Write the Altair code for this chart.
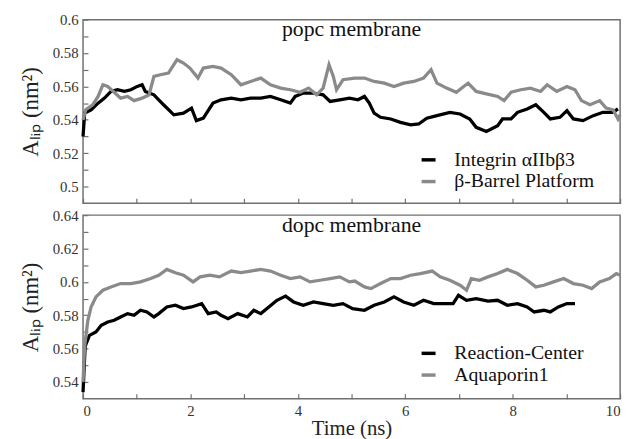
import altair as alt
import pandas as pd

# ---- data (time in ns, area per lipid in nm^2) ----
INTEGRIN = [(0.0, 0.530), (0.03, 0.544), (0.15, 0.546), (0.28, 0.550), (0.40, 0.553), (0.52, 0.557),
            (0.64, 0.558), (0.77, 0.557), (0.89, 0.558), (1.01, 0.560), (1.10, 0.561), (1.16, 0.557),
            (1.32, 0.555), (1.50, 0.549), (1.69, 0.543), (1.87, 0.544), (2.02, 0.547), (2.11, 0.5395),
            (2.24, 0.541), (2.42, 0.550), (2.57, 0.552), (2.76, 0.553), (2.94, 0.552), (3.12, 0.553),
            (3.31, 0.553), (3.49, 0.554), (3.68, 0.552), (3.86, 0.550), (3.95, 0.554), (4.10, 0.556),
            (4.29, 0.556), (4.47, 0.555), (4.60, 0.551), (4.78, 0.552), (4.96, 0.553), (5.12, 0.552),
            (5.24, 0.554), (5.33, 0.550), (5.42, 0.544), (5.54, 0.5415), (5.73, 0.5405), (5.91, 0.5385),
            (6.10, 0.537), (6.25, 0.5375), (6.40, 0.541), (6.59, 0.5425), (6.83, 0.5445), (7.02, 0.5435),
            (7.20, 0.5405), (7.32, 0.5355), (7.51, 0.533), (7.72, 0.5365), (7.81, 0.5405), (7.97, 0.5405),
            (8.09, 0.5445), (8.27, 0.5465), (8.43, 0.549), (8.58, 0.5445), (8.70, 0.5405), (8.88, 0.5415),
            (9.01, 0.5455), (9.13, 0.5405), (9.31, 0.5395), (9.50, 0.5425), (9.68, 0.5445), (9.87, 0.5445),
            (9.96, 0.5465)]

BARREL = [(0.0, 0.540), (0.05, 0.546), (0.18, 0.549), (0.28, 0.554), (0.37, 0.561), (0.46, 0.560),
          (0.58, 0.5565), (0.70, 0.553), (0.83, 0.554), (0.95, 0.5515), (1.10, 0.553), (1.23, 0.555),
          (1.32, 0.566), (1.44, 0.567), (1.59, 0.568), (1.75, 0.576), (1.87, 0.574), (1.99, 0.571),
          (2.14, 0.565), (2.24, 0.571), (2.42, 0.572), (2.57, 0.571), (2.76, 0.567), (2.94, 0.561),
          (3.12, 0.563), (3.31, 0.565), (3.49, 0.561), (3.68, 0.559), (3.86, 0.558), (4.04, 0.5565),
          (4.20, 0.559), (4.35, 0.555), (4.47, 0.559), (4.58, 0.573), (4.66, 0.566), (4.72, 0.558),
          (4.84, 0.564), (5.06, 0.565), (5.24, 0.565), (5.42, 0.563), (5.61, 0.562), (5.79, 0.560),
          (5.97, 0.562), (6.16, 0.563), (6.34, 0.565), (6.48, 0.570), (6.59, 0.562), (6.77, 0.559),
          (6.95, 0.5565), (7.17, 0.562), (7.32, 0.557), (7.51, 0.5555), (7.72, 0.554), (7.84, 0.5515),
          (7.97, 0.5565), (8.15, 0.558), (8.33, 0.559), (8.52, 0.557), (8.64, 0.561), (8.82, 0.557),
          (9.01, 0.560), (9.16, 0.558), (9.28, 0.5515), (9.44, 0.549), (9.62, 0.5515), (9.74, 0.547),
          (9.87, 0.546), (9.96, 0.5405), (10.0, 0.543)]

REACTION = [(0.0, 0.534), (0.04, 0.5615), (0.12, 0.568), (0.24, 0.570), (0.34, 0.574), (0.46, 0.576),
            (0.58, 0.577), (0.70, 0.579), (0.83, 0.581), (0.95, 0.580), (1.07, 0.583), (1.19, 0.582),
            (1.32, 0.579), (1.41, 0.581), (1.56, 0.585), (1.72, 0.586), (1.87, 0.584), (2.02, 0.585),
            (2.21, 0.587), (2.33, 0.581), (2.48, 0.582), (2.57, 0.580), (2.70, 0.578), (2.88, 0.581),
            (3.06, 0.579), (3.18, 0.583), (3.31, 0.581), (3.46, 0.585), (3.61, 0.589), (3.77, 0.5915),
            (3.92, 0.588), (4.10, 0.586), (4.29, 0.588), (4.47, 0.587), (4.66, 0.586), (4.84, 0.587),
            (5.02, 0.584), (5.24, 0.583), (5.42, 0.586), (5.61, 0.588), (5.79, 0.591), (5.97, 0.588),
            (6.16, 0.586), (6.34, 0.589), (6.53, 0.587), (6.71, 0.587), (6.89, 0.587), (6.99, 0.592),
            (7.14, 0.589), (7.32, 0.590), (7.54, 0.5885), (7.72, 0.589), (7.90, 0.586), (8.09, 0.587),
            (8.27, 0.585), (8.40, 0.582), (8.58, 0.583), (8.70, 0.582), (8.85, 0.585), (9.01, 0.587),
            (9.16, 0.587)]

AQUAPORIN = [(0.0, 0.540), (0.03, 0.5615), (0.09, 0.577), (0.15, 0.585), (0.24, 0.591), (0.37, 0.595),
             (0.52, 0.597), (0.70, 0.599), (0.89, 0.599), (1.07, 0.600), (1.26, 0.602), (1.41, 0.604),
             (1.56, 0.6075), (1.72, 0.6055), (1.87, 0.604), (2.05, 0.600), (2.18, 0.603), (2.36, 0.604),
             (2.54, 0.603), (2.76, 0.6065), (2.94, 0.6055), (3.12, 0.6065), (3.31, 0.6075), (3.49, 0.6065),
             (3.68, 0.604), (3.86, 0.602), (4.04, 0.603), (4.23, 0.600), (4.41, 0.601), (4.60, 0.602),
             (4.78, 0.603), (4.96, 0.600), (5.06, 0.6005), (5.24, 0.597), (5.36, 0.596), (5.54, 0.599),
             (5.73, 0.602), (5.91, 0.602), (6.10, 0.604), (6.28, 0.605), (6.50, 0.6065), (6.65, 0.603),
             (6.83, 0.601), (7.02, 0.598), (7.14, 0.595), (7.23, 0.602), (7.38, 0.601), (7.54, 0.603),
             (7.72, 0.605), (7.90, 0.6075), (8.09, 0.605), (8.27, 0.601), (8.43, 0.597), (8.58, 0.598),
             (8.76, 0.600), (8.95, 0.602), (9.13, 0.599), (9.31, 0.598), (9.47, 0.596), (9.62, 0.600),
             (9.80, 0.602), (9.93, 0.605), (10.0, 0.604)]

TOP_NAMES = ["Integrin αIIbβ3", "β-Barrel Platform"]
BOT_NAMES = ["Reaction-Center", "Aquaporin1"]
PANEL_TITLES = ["popc membrane", "dopc membrane"]
COLORS = ["#000000", "#8a8a8a"]

X_DOMAIN = [0, 10]
X_MAJOR = [0, 2, 4, 6, 8, 10]
X_MINOR = [1, 3, 5, 7, 9]
Y_TOP_DOMAIN = [0.49, 0.6]
Y_TOP_MAJOR = [0.5, 0.52, 0.54, 0.56, 0.58, 0.6]
Y_TOP_MINOR = [0.51, 0.53, 0.55, 0.57, 0.59]
Y_BOT_DOMAIN = [0.53, 0.64]
Y_BOT_MAJOR = [0.54, 0.56, 0.58, 0.6, 0.62, 0.64]
Y_BOT_MINOR = [0.55, 0.57, 0.59, 0.61, 0.63]

Y_TITLE = "Aₗᵢₚ (nm²)"
X_TITLE = "Time (ns)"

W, H = 544, 186
FONT = "Liberation Serif"
FRAME = "#707070"
TICK = 5  # inward tick length (px)


def frame(series_list, names):
    rows = []
    for name, pts in zip(names, series_list):
        for t, v in pts:
            rows.append({"t": t, "v": v, "series": name})
    return pd.DataFrame(rows)


def only_major(major):
    arr = ",".join(repr(m) for m in major)
    return f"indexof([{arr}], datum.value) >= 0 ? datum.label : ''"


def panel(series_list, names, ydom, ymaj, ymin, title, show_x, legend_y):
    df = frame(series_list, names)
    xs = alt.Scale(domain=X_DOMAIN, nice=False, zero=False)
    ys = alt.Scale(domain=ydom, nice=False, zero=False)
    inward = {"expr": f"-{TICK}"}

    x_common = dict(orient="bottom", values=sorted(X_MAJOR + X_MINOR), ticks=True, tickSize=inward,
                    tickColor=FRAME, tickWidth=1.2, domain=False, grid=False)
    if show_x:
        x_axis = alt.Axis(
            **x_common, labelExpr=only_major(X_MAJOR),
            labelFont=FONT, labelFontSize=15, labelColor="#333", labelPadding=5 + TICK,
            title=X_TITLE, titleFont=FONT, titleFontSize=21, titleFontWeight="normal",
            titleColor="#222", titlePadding=-1)
    else:
        x_axis = alt.Axis(**x_common, labels=False, title=None)

    y_axis = alt.Axis(
        orient="left", values=sorted(ymaj + ymin), labelExpr=only_major(ymaj), format="~g",
        ticks=True, tickSize=inward, tickColor=FRAME, tickWidth=1.2, domain=False, grid=False,
        labelFont=FONT, labelFontSize=15, labelColor="#333", labelPadding=5 + TICK,
        title=Y_TITLE, titleFont=FONT, titleFontSize=23, titleFontWeight="normal",
        titleColor="#222", titlePadding=10)

    return alt.Chart(df).mark_line(strokeWidth=3.3).encode(
        x=alt.X("t:Q", scale=xs, axis=x_axis),
        y=alt.Y("v:Q", scale=ys, axis=y_axis),
        color=alt.Color("series:N", scale=alt.Scale(domain=names, range=COLORS),
                        legend=alt.Legend(orient="none", legendX=340, legendY=legend_y, title=None,
                                          symbolType="stroke", symbolStrokeWidth=3.5, symbolSize=200,
                                          labelFont=FONT, labelFontSize=20, labelColor="#111",
                                          labelOffset=16, padding=0)),
    ).properties(
        width=W, height=H,
        title=alt.TitleParams(title, frame="group", anchor="middle", offset=-29,
                              font=FONT, fontSize=22, fontWeight="normal", color="#111"),
    )


top = panel([INTEGRIN, BARREL], TOP_NAMES, Y_TOP_DOMAIN, Y_TOP_MAJOR, Y_TOP_MINOR,
            PANEL_TITLES[0], False, 132)
bottom = panel([REACTION, AQUAPORIN], BOT_NAMES, Y_BOT_DOMAIN, Y_BOT_MAJOR, Y_BOT_MINOR,
               PANEL_TITLES[1], True, 130)

chart = alt.vconcat(top, bottom, spacing=2).resolve_scale(
    x="independent", y="independent", color="independent"
).properties(
    padding={"left": 11, "top": 1, "right": 0, "bottom": 0}
).configure(
    font=FONT, background="white"
).configure_view(
    stroke=FRAME, strokeWidth=1.5
).configure_axis(
    labelFont=FONT, titleFont=FONT
).configure_legend(
    labelFont=FONT
).configure_title(
    font=FONT
)

chart.save("out.html", embed_options={"renderer": "svg", "actions": False})
